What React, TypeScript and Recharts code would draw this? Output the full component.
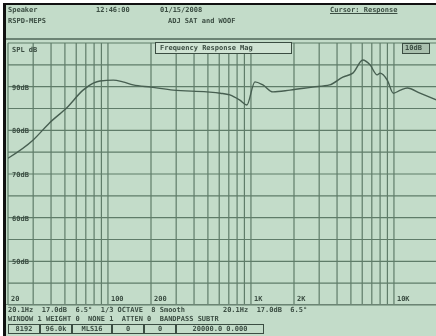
import React from 'react';
import { LineChart, Line, XAxis, YAxis, CartesianGrid } from 'recharts';

const FREQ_HZ = [20, 30, 39, 52, 67, 79, 88, 109, 127, 150, 200, 286, 492, 610, 712, 836, 936, 1066, 1212, 1424, 1875, 2700, 3550, 4390, 5160, 6060, 6800, 7630, 8000, 8980, 9900, 11100, 12400, 15200, 20000];
const SPL_DB = [73.6, 77.8, 81.7, 85.3, 89.2, 90.8, 91.3, 91.5, 91.1, 90.4, 89.9, 89.2, 88.8, 88.5, 88.1, 86.9, 85.8, 91.1, 90.4, 88.8, 89.2, 89.9, 90.4, 92.2, 93.1, 96.1, 95.0, 92.7, 93.1, 91.5, 88.5, 89.2, 89.7, 88.5, 86.9];

const FREQ_GRID = [20, 30, 40, 50, 60, 70, 80, 90, 100, 200, 300, 400, 500, 600, 700, 800, 900, 1000, 2000, 3000, 4000, 5000, 6000, 7000, 8000, 9000, 10000, 20000];
const FREQ_LABELS: Record<number, string> = { 20: '20', 100: '100', 200: '200', 1000: '1K', 2000: '2K', 10000: '10K' };
const DB_GRID = [40, 45, 50, 55, 60, 65, 70, 75, 80, 85, 90, 95, 100];
const DB_LABELS: Record<number, string> = { 90: '90dB', 80: '80dB', 70: '70dB', 60: '60dB', 50: '50dB' };

const data = FREQ_HZ.map((f, i) => ({ f, spl: SPL_DB[i] }));

const BG = '#c3dcc9';
const GRID = '#5f7c69';
const INK = '#3b4d42';
const mono = '"DejaVu Sans Mono", monospace';

function XTick(props: any) {
  const { x, y, payload } = props;
  const label = FREQ_LABELS[payload.value];
  if (!label) return <g />;
  return (
    <text x={x + 3} y={y - 4} fontSize={7} fontWeight={700} fontFamily={mono} fill={INK}>
      {label}
    </text>
  );
}

function YTick(props: any) {
  const { x, y, payload } = props;
  const label = DB_LABELS[payload.value];
  if (!label) return <g />;
  return (
    <text x={x + 4} y={y + 3} fontSize={7} fontWeight={700} fontFamily={mono} fill={INK}>
      {label}
    </text>
  );
}

const txt = (left: number, top: number, s: string, extra: React.CSSProperties = {}) => (
  <div style={{ position: 'absolute', left, top, fontFamily: mono, fontSize: 7, fontWeight: 700, color: INK, whiteSpace: 'pre', lineHeight: '8px', ...extra }}>
    {s}
  </div>
);

export default function App() {
  return (
    <div style={{ position: 'fixed', left: 0, top: 0, width: 436, height: 336, background: '#fff', overflow: 'hidden', filter: 'blur(0.4px)' }}>
      <div style={{ position: 'absolute', left: 3, top: 3, width: 433, height: 333, background: BG, borderTop: '2px solid #111', borderLeft: '3px solid #111' }} />
      {/* header */}
      {txt(8, 6, 'Speaker')}
      {txt(96, 6, '12:46:00')}
      {txt(160, 6, '01/15/2008')}
      {txt(330, 6, 'Cursor: Response', { textDecoration: 'underline' })}
      {txt(8, 17, 'RSPD-MEPS')}
      {txt(168, 17, 'ADJ SAT and WOOF')}
      <div style={{ position: 'absolute', left: 6, top: 38, width: 430, height: 2, background: '#6c8474' }} />
      <div style={{ position: 'absolute', left: 0, top: 0 }}>
        <LineChart width={437} height={336} data={data} margin={{ top: 43, right: 0, bottom: 30, left: 7 }}>
          <CartesianGrid stroke={GRID} strokeWidth={1.2} />
          <XAxis
            dataKey="f"
            type="number"
            scale="log"
            domain={[20, 20000]}
            ticks={FREQ_GRID}
            interval={0}
            height={1}
            tickSize={0}
            tickMargin={0}
            axisLine={false}
            tick={XTick}
            allowDataOverflow
          />
          <YAxis
            type="number"
            domain={[40, 100]}
            ticks={DB_GRID}
            interval={0}
            width={1}
            tickSize={0}
            tickMargin={0}
            axisLine={false}
            tick={YTick}
          />
          <Line type="monotone" dataKey="spl" stroke="#475f51" strokeWidth={1.4} dot={false} isAnimationActive={false} />
        </LineChart>
      </div>
      {txt(12, 46, 'SPL dB')}
      <div style={{ position: 'absolute', left: 155, top: 42, width: 135, height: 10, border: `1px solid ${INK}`, background: '#cfe3d3' }} />
      {txt(160, 44, 'Frequency Response Mag')}
      <div style={{ position: 'absolute', left: 402, top: 43, width: 26, height: 9, border: `1px solid ${INK}`, background: '#a9c0ae' }} />
      {txt(405, 44, '10dB')}
      {/* status rows */}
      <div style={{ position: 'absolute', left: 6, top: 304, width: 430, height: 1, background: '#6c8474' }} />
      {txt(8, 306, '20.1Hz  17.0dB  6.5°  1/3 OCTAVE  8 Smooth         20.1Hz  17.0dB  6.5°')}
      {txt(8, 315, 'WINDOW 1 WEIGHT 0  NONE 1  ATTEN 0  BANDPASS SUBTR')}
      {[['8192', 30], ['96.0k', 30], ['MLS16', 38], ['0', 30], ['0', 30], ['20000.0 0.000', 86]].map(([s, w], i, arr) => {
        const left = 8 + arr.slice(0, i).reduce((a, b) => a + (b[1] as number) + 2, 0);
        return (
          <div key={i} style={{ position: 'absolute', left, top: 324, width: w as number, height: 8, border: `1px solid ${INK}`, fontFamily: mono, fontSize: 7, fontWeight: 700, color: INK, lineHeight: '8px', textAlign: 'center' }}>
            {s}
          </div>
        );
      })}
    </div>
  );
}
